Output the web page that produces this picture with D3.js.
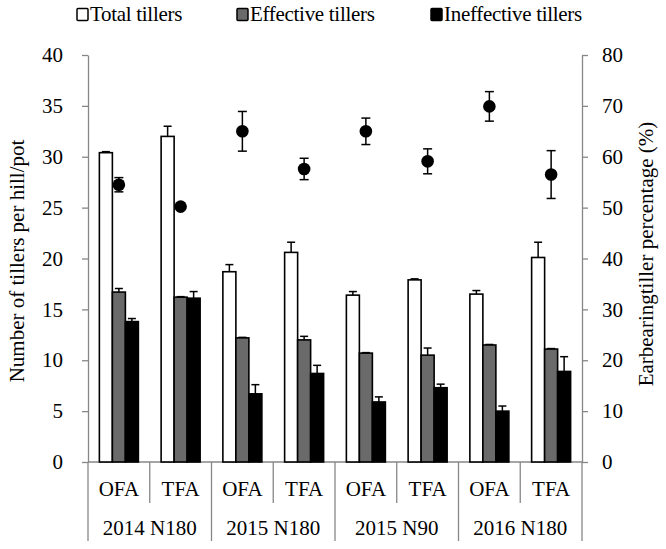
<!DOCTYPE html>
<html>
<head>
<meta charset="utf-8">
<script src="https://cdn.jsdelivr.net/npm/d3@7"></script>
<style>
  body { margin: 0; background: #fff; }
  text { font-family: "Liberation Serif", "Times New Roman", serif; fill: #000; }
</style>
</head>
<body>
<svg id="chart" width="666" height="549"></svg>
<script>
// ---- data ----
const treatments = ["OFA", "TFA", "OFA", "TFA", "OFA", "TFA", "OFA", "TFA"];
const groups = ["2014 N180", "2015 N180", "2015 N90", "2016 N180"];
const seriesNames = ["Total tillers", "Effective tillers", "Ineffective tillers"];
const totalTillers = [30.4, 32.0, 18.7, 20.6, 16.4, 17.9, 16.5, 20.1];
const totalErr = [0.1, 1.0, 0.7, 1.0, 0.35, 0.1, 0.35, 1.5];
const effectiveTillers = [16.7, 16.2, 12.2, 12.0, 10.7, 10.5, 11.5, 11.1];
const effectiveErr = [0.35, 0.05, 0.05, 0.35, 0.05, 0.7, 0.05, 0.05];
const ineffectiveTillers = [13.8, 16.1, 6.7, 8.7, 5.9, 7.3, 5.0, 8.9];
const ineffectiveErr = [0.3, 0.65, 0.9, 0.8, 0.5, 0.35, 0.5, 1.45];
const earbearingPct = [54.5, 50.2, 65.0, 57.6, 65.0, 59.1, 69.9, 56.5];
const earbearingErr = [1.4, 0.5, 3.9, 2.1, 2.6, 2.45, 2.9, 4.7];
const leftTicks = [0, 5, 10, 15, 20, 25, 30, 35, 40];
const rightTicks = [0, 10, 20, 30, 40, 50, 60, 70, 80];

const seriesValues = [totalTillers, effectiveTillers, ineffectiveTillers];
const seriesErrs = [totalErr, effectiveErr, ineffectiveErr];
const seriesFill = ["#ffffff", "#6a6a6a", "#000000"];
const axisColor = "#878787";
const FS = 21;

const svg = d3.select("#chart");
const pLeft = 88, pRight = 582, pTop = 55, pBottom = 462;
const cats = d3.range(treatments.length);

const x = d3.scaleBand().domain(cats).range([pLeft, pRight]).paddingInner(0).paddingOuter(0);
const xs = d3.scaleBand().domain(d3.range(3)).range([0, x.bandwidth()]).paddingInner(0).paddingOuter(0.875);
const yL = d3.scaleLinear().domain([0, 40]).range([pBottom, pTop]);
const yR = d3.scaleLinear().domain([0, 80]).range([pBottom, pTop]);

// ---- axes ----
const axL = svg.append("g").attr("transform", `translate(${pLeft},0)`)
  .call(d3.axisLeft(yL).tickValues(leftTicks).tickSize(6).tickPadding(19).tickSizeOuter(0));
const axR = svg.append("g").attr("transform", `translate(${pRight},0)`)
  .call(d3.axisRight(yR).tickValues(rightTicks).tickSize(6).tickPadding(14).tickSizeOuter(0));
[axL, axR].forEach(a => {
  a.select(".domain").attr("stroke", axisColor).attr("stroke-width", 1.3);
  a.selectAll(".tick line").attr("stroke", axisColor).attr("stroke-width", 1.3);
  a.selectAll(".tick text").attr("font-size", FS).attr("font-family", "Liberation Serif, serif").attr("fill", "#000");
});

// x axis line
svg.append("line").attr("x1", pLeft).attr("x2", pRight).attr("y1", pBottom).attr("y2", pBottom)
  .attr("stroke", axisColor).attr("stroke-width", 1.3);

// category separators
const bounds = d3.range(treatments.length + 1);
svg.append("g").selectAll("line").data(bounds).join("line")
  .attr("x1", d => pLeft + d * x.step()).attr("x2", d => pLeft + d * x.step())
  .attr("y1", pBottom)
  .attr("y2", d => d % 2 === 0 ? 541 : 503)
  .attr("stroke", axisColor).attr("stroke-width", 1.3);

// category labels
svg.append("g").selectAll("text").data(cats).join("text")
  .attr("x", d => x(d) + x.bandwidth() / 2).attr("y", 496)
  .attr("text-anchor", "middle").attr("font-size", FS)
  .text(d => treatments[d]);
svg.append("g").selectAll("text").data(groups).join("text")
  .attr("x", (d, i) => x(i * 2) + x.step()).attr("y", 535)
  .attr("text-anchor", "middle").attr("font-size", FS)
  .text(d => d);

// ---- bars ----
seriesValues.forEach((vals, s) => {
  const g = svg.append("g");
  g.selectAll("line.err").data(cats).join("line")
    .attr("class", "err")
    .attr("x1", d => x(d) + xs(s) + xs.bandwidth() / 2)
    .attr("x2", d => x(d) + xs(s) + xs.bandwidth() / 2)
    .attr("y1", d => yL(vals[d]))
    .attr("y2", d => yL(vals[d] + seriesErrs[s][d]))
    .attr("stroke", "#000").attr("stroke-width", 1.5);
  g.selectAll("line.cap").data(cats).join("line")
    .attr("class", "cap")
    .attr("x1", d => x(d) + xs(s) + xs.bandwidth() / 2 - 4)
    .attr("x2", d => x(d) + xs(s) + xs.bandwidth() / 2 + 4)
    .attr("y1", d => yL(vals[d] + seriesErrs[s][d]))
    .attr("y2", d => yL(vals[d] + seriesErrs[s][d]))
    .attr("stroke", "#000").attr("stroke-width", 1.5);
  g.selectAll("rect").data(cats).join("rect")
    .attr("x", d => x(d) + xs(s))
    .attr("width", xs.bandwidth())
    .attr("y", d => yL(vals[d]))
    .attr("height", d => yL(0) - yL(vals[d]))
    .attr("fill", seriesFill[s])
    .attr("stroke", "#000").attr("stroke-width", 1.6);
});

// ---- earbearing points ----
const pg = svg.append("g");
pg.selectAll("line.v").data(cats).join("line")
  .attr("class", "v")
  .attr("x1", d => x(d) + x.bandwidth() / 2).attr("x2", d => x(d) + x.bandwidth() / 2)
  .attr("y1", d => yR(earbearingPct[d] - earbearingErr[d]))
  .attr("y2", d => yR(earbearingPct[d] + earbearingErr[d]))
  .attr("stroke", "#000").attr("stroke-width", 1.5);
[-1, 1].forEach(sign => {
  pg.append("g").selectAll("line").data(cats).join("line")
    .attr("x1", d => x(d) + x.bandwidth() / 2 - 4.5).attr("x2", d => x(d) + x.bandwidth() / 2 + 4.5)
    .attr("y1", d => yR(earbearingPct[d] + sign * earbearingErr[d]))
    .attr("y2", d => yR(earbearingPct[d] + sign * earbearingErr[d]))
    .attr("stroke", "#000").attr("stroke-width", 1.5);
});
pg.selectAll("circle").data(cats).join("circle")
  .attr("cx", d => x(d) + x.bandwidth() / 2)
  .attr("cy", d => yR(earbearingPct[d]))
  .attr("r", 6.3).attr("fill", "#000");

// ---- axis titles ----
svg.append("text").attr("transform", "translate(24,261) rotate(-90)")
  .attr("text-anchor", "middle").attr("font-size", FS)
  .text("Number of tillers per hill/pot");
svg.append("text").attr("transform", "translate(653,254) rotate(-90)")
  .attr("text-anchor", "middle").attr("font-size", FS)
  .text("Earbearingtiller percentage (%)");

// ---- legend ----
const legX = [77, 237, 431];
const legend = svg.append("g");
seriesNames.forEach((name, s) => {
  legend.append("rect").attr("x", legX[s]).attr("y", 8.5).attr("width", 11).attr("height", 12)
    .attr("fill", seriesFill[s]).attr("stroke", "#000").attr("stroke-width", 1.5).attr("rx", 1);
  legend.append("text").attr("x", legX[s] + 13).attr("y", 20.5).attr("font-size", FS)
    .attr("letter-spacing", "-0.3px")
    .text(name);
});
</script>
</body>
</html>
